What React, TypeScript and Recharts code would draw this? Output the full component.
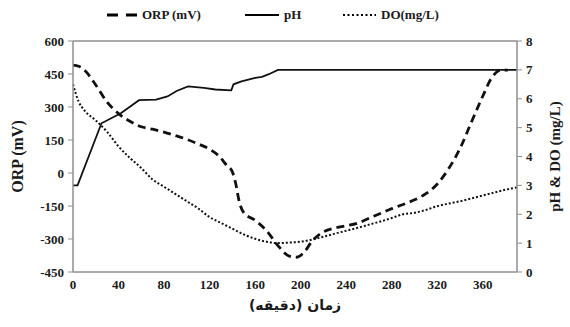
import { LineChart, Line, XAxis, YAxis, ReferenceLine } from "recharts";

// time (min) and ORP (mV)
const orpTime = [0, 5, 10, 20, 30, 40, 50, 60, 70, 80, 90, 100, 110, 120, 128, 135, 140, 143, 146, 150, 160, 170, 180, 190, 196, 203, 210, 220, 230, 240, 250, 260, 270, 280, 290, 300, 310, 320, 330, 340, 350, 360, 368, 376, 382];
const orpValues = [490, 485, 468, 400, 322, 270, 235, 210, 199, 186, 170, 153, 132, 108, 78, 35, 5, -50, -130, -180, -215, -262, -330, -378, -383, -360, -310, -268, -250, -240, -228, -206, -184, -162, -143, -122, -94, -50, 20, 112, 232, 350, 435, 468, 468];

// time (min) and pH
const phTime = [0, 4, 25, 42, 58, 73, 83, 91, 101, 115, 125, 139, 141, 148, 154, 160, 166, 172, 180, 390];
const phValues = [3.0, 3.0, 5.15, 5.5, 5.95, 5.97, 6.08, 6.27, 6.43, 6.38, 6.32, 6.29, 6.5, 6.6, 6.66, 6.72, 6.76, 6.85, 7.0, 7.0];

// time (min) and DO (mg/L)
const doTime = [0, 5, 10, 20, 30, 40, 50, 60, 70, 80, 90, 100, 110, 120, 130, 140, 150, 160, 170, 180, 190, 200, 210, 220, 230, 240, 250, 260, 270, 280, 290, 300, 310, 320, 330, 340, 350, 360, 370, 380, 390];
const doValues = [6.5, 5.9, 5.6, 5.25, 4.85, 4.35, 3.95, 3.6, 3.2, 2.95, 2.7, 2.45, 2.2, 1.9, 1.7, 1.5, 1.3, 1.15, 1.05, 1.0, 1.02, 1.05, 1.12, 1.22, 1.33, 1.43, 1.53, 1.64, 1.75, 1.87, 2.0, 2.05, 2.15, 2.28, 2.37, 2.45, 2.55, 2.65, 2.75, 2.85, 2.93];

const xTicks = [0, 40, 80, 120, 160, 200, 240, 280, 320, 360];
const orpTicks = [-450, -300, -150, 0, 150, 300, 450, 600];
const rightTicks = [0, 1, 2, 3, 4, 5, 6, 7, 8];

const orpData = orpTime.map((t, i) => ({ t, orp: orpValues[i] }));
const phData = phTime.map((t, i) => ({ t, ph: phValues[i] }));
const doData = doTime.map((t, i) => ({ t, do: doValues[i] }));

const serif = "'Liberation Serif', 'Times New Roman', serif";
const axisColor = "#8f8f8f";
const tickStyle = { fill: "#1a1a1a", fontSize: 13, fontWeight: 700, fontFamily: serif };

function LegendItem({ dash, width, label, sw }: { dash?: string; width: number; label: string; sw: number }) {
  return (
    <span style={{ display: "inline-flex", alignItems: "center" }}>
      <svg width={width} height={8} style={{ marginRight: 5 }}>
        <line x1={0} y1={4} x2={width} y2={4} stroke="#000" strokeWidth={sw} strokeDasharray={dash} />
      </svg>
      <span>{label}</span>
    </span>
  );
}

export default function App() {
  return (
    <div style={{ position: "absolute", left: 0, top: 0, width: 570, height: 327, background: "#fff" }}>
      <div
        style={{
          position: "absolute",
          top: 7,
          left: 0,
          width: 570,
          fontFamily: serif,
          fontWeight: 700,
          fontSize: 13,
          color: "#1a1a1a",
          lineHeight: "16px",
        }}
      >
        <span style={{ position: "absolute", left: 107 }}>
          <LegendItem dash="11 8" width={30} label="ORP (mV)" sw={3} />
        </span>
        <span style={{ position: "absolute", left: 245 }}>
          <LegendItem width={34} label="pH" sw={2} />
        </span>
        <span style={{ position: "absolute", left: 343 }}>
          <LegendItem dash="2 2.5" width={33} label="DO(mg/L)" sw={2} />
        </span>
      </div>
      <LineChart width={570} height={327} margin={{ top: 41, right: 0, bottom: 0, left: 0 }}>
        <XAxis
          dataKey="t"
          type="number"
          domain={[0, 390]}
          ticks={xTicks}
          allowDataOverflow
          axisLine={{ stroke: axisColor, strokeWidth: 1.5 }}
          tickLine={false}
          tickSize={0}
          tickMargin={8}
          tick={tickStyle}
          height={55}
          label={{
            value: "زمان (دقیقه)",
            position: "insideBottom",
            offset: 17,
            style: { fill: "#1a1a1a", fontSize: 14, fontWeight: 700, fontFamily: "'DejaVu Sans', sans-serif" },
          }}
        />
        <YAxis
          yAxisId="left"
          domain={[-450, 600]}
          ticks={orpTicks}
          width={73}
          axisLine={{ stroke: axisColor, strokeWidth: 1.5 }}
          tickLine={{ stroke: axisColor }}
          tickSize={5}
          tickMargin={4}
          tick={tickStyle}
          label={{
            value: "ORP (mV)",
            angle: -90,
            position: "insideLeft",
            offset: 17,
            style: { textAnchor: "middle", fill: "#1a1a1a", fontSize: 16, fontWeight: 700, fontFamily: serif },
          }}
        />
        <YAxis
          yAxisId="right"
          orientation="right"
          domain={[0, 8]}
          ticks={rightTicks}
          width={53}
          axisLine={{ stroke: axisColor, strokeWidth: 1.5 }}
          tickLine={{ stroke: axisColor }}
          tickSize={5}
          tickMargin={4}
          tick={tickStyle}
          label={{
            value: "pH & DO (mg/L)",
            angle: -90,
            position: "insideRight",
            offset: 15,
            style: { textAnchor: "middle", fill: "#1a1a1a", fontSize: 15, fontWeight: 700, fontFamily: serif },
          }}
        />
        <ReferenceLine yAxisId="left" y={600} stroke={axisColor} strokeWidth={1.5} />
        <Line
          yAxisId="right"
          data={doData}
          dataKey="do"
          type="monotone"
          stroke="#111"
          strokeWidth={2}
          strokeDasharray="2 2"
          dot={false}
          isAnimationActive={false}
        />
        <Line
          yAxisId="right"
          data={phData}
          dataKey="ph"
          type="linear"
          stroke="#111"
          strokeWidth={1.8}
          dot={false}
          isAnimationActive={false}
        />
        <Line
          yAxisId="left"
          data={orpData}
          dataKey="orp"
          type="monotone"
          stroke="#111"
          strokeWidth={2.8}
          strokeDasharray="8 5"
          dot={false}
          isAnimationActive={false}
        />
      </LineChart>
    </div>
  );
}
